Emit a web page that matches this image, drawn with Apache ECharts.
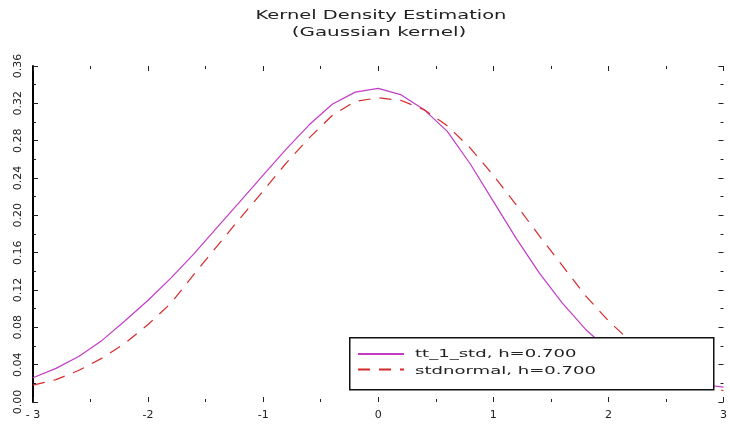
<!DOCTYPE html>
<html>
<head>
<meta charset="utf-8">
<script src="https://cdn.jsdelivr.net/npm/echarts@6/dist/echarts.min.js"></script>
<style>
  html, body { margin: 0; padding: 0; background: #fff; }
  #chart { width: 730px; height: 426px; }
</style>
</head>
<body>
<div id="chart"></div>
<script>
// Evaluation grid shared by both density estimates
const xGrid = [-3.0, -2.8, -2.6, -2.4, -2.2, -2.0, -1.8, -1.6, -1.4, -1.2, -1.0,
               -0.8, -0.6, -0.4, -0.2, 0.0, 0.2, 0.4, 0.6, 0.8, 1.0,
               1.2, 1.4, 1.6, 1.8, 2.0, 2.2, 2.4, 2.6, 2.8, 3.0];

// Estimated density of tt_1_std (h = 0.700)
const densityTt1 = [0.026, 0.036, 0.049, 0.066, 0.087, 0.109, 0.133, 0.159, 0.187, 0.215, 0.243,
                    0.271, 0.297, 0.319, 0.332, 0.336, 0.329, 0.313, 0.290, 0.255, 0.215,
                    0.175, 0.138, 0.106, 0.078, 0.056, 0.041, 0.031, 0.024, 0.019, 0.016];

// Estimated density of stdnormal (h = 0.700)
const densityStdNormal = [0.018, 0.024, 0.034, 0.047, 0.063, 0.083, 0.106, 0.137, 0.167, 0.197, 0.226,
                          0.256, 0.283, 0.307, 0.322, 0.326, 0.323, 0.313, 0.296, 0.272, 0.243,
                          0.211, 0.178, 0.146, 0.114, 0.087, 0.064, 0.045, 0.031, 0.020, 0.012];

const seriesNames = ['tt_1_std, h=0.700', 'stdnormal, h=0.700'];
const titleLines = ['Kernel Density Estimation', '(Gaussian kernel)'];

// Axis tick labels
const xTickLabels = { '-3': '- 3', '-2': '-2', '-1': '-1', '0': '0', '1': '1', '2': '2', '3': '3' };
const yTickLabels = ['0.00', '0.04', '0.08', '0.12', '0.16', '0.20', '0.24', '0.28', '0.32', '0.36'];

const pairs = (ys) => xGrid.map((x, i) => [x, ys[i]]);
const ink = '#222';
const font = 'DejaVu Sans';

const tickStyle = { color: ink, width: 1 };
const makeX = (pos, labels) => ({
  type: 'value', min: -3, max: 3, interval: 1, position: pos,
  axisLine: { show: false, onZero: false },
  axisTick: { show: true, inside: true, length: 5, lineStyle: tickStyle },
  minorTick: { show: true, splitNumber: 2, length: 3, lineStyle: tickStyle },
  splitLine: { show: false },
  axisLabel: labels ? {
    show: true, margin: 8, fontSize: 11, fontFamily: font, color: ink,
    formatter: (v) => xTickLabels[String(Math.round(v))]
  } : { show: false }
});
const makeY = (pos, labels) => ({
  type: 'value', min: 0, max: 0.36, interval: 0.04, position: pos,
  axisLine: { show: labels, onZero: false, lineStyle: { color: '#000', width: 2 } },
  axisTick: { show: true, inside: true, length: 5, lineStyle: tickStyle },
  minorTick: { show: true, splitNumber: 2, length: 3, lineStyle: tickStyle },
  splitLine: { show: false },
  axisLabel: labels ? {
    show: true, rotate: 90, margin: 9, fontSize: 11, fontFamily: font, color: ink,
    formatter: (v) => yTickLabels[Math.round(v / 0.04)]
  } : { show: false }
});

// Wide, stretched lettering for the heading and key labels
const stretchedText = (text, x, y, size, stretch, align) => ({
  type: 'text', x: x, y: y, z: 30, scaleX: stretch,
  style: {
    text: text, font: size + 'px "DejaVu Sans"', fill: ink,
    textAlign: align, textVerticalAlign: 'middle'
  }
});

const chart = echarts.init(document.getElementById('chart'), null, { renderer: 'canvas' });
chart.setOption({
  backgroundColor: '#fff',
  animation: false,
  grid: { left: 33, right: 0, top: 66, bottom: 24, containLabel: false },
  xAxis: [makeX('bottom', true), makeX('top', false)],
  yAxis: [makeY('left', true), makeY('right', false)],
  legend: {
    left: 357, top: 347, orient: 'vertical',
    itemWidth: 46, itemHeight: 14, itemGap: 3, padding: 0, z: 20,
    itemStyle: { opacity: 0 },
    formatter: () => '',
    textStyle: { fontSize: 11, fontFamily: font, color: ink },
    data: seriesNames
  },
  graphic: [
    stretchedText(titleLines[0], 381, 16, 12, 1.62, 'center'),
    stretchedText(titleLines[1], 379, 33, 12, 1.66, 'center'),
    stretchedText(seriesNames[0], 415, 354, 10.5, 1.72, 'left'),
    stretchedText(seriesNames[1], 415, 371, 10.5, 1.72, 'left'),
    {
      type: 'rect', z: 10, left: 349, top: 337,
      shape: { width: 364, height: 52 },
      style: { fill: '#fff', stroke: '#111', lineWidth: 1.5 }
    }
  ],
  series: [
    {
      name: seriesNames[0], type: 'line', data: pairs(densityTt1),
      symbol: 'none', smooth: false, z: 3,
      lineStyle: { color: '#c23cc8', width: 1.2, type: 'solid' },
      itemStyle: { color: '#c23cc8' }
    },
    {
      name: seriesNames[1], type: 'line', data: pairs(densityStdNormal),
      symbol: 'none', smooth: false, z: 3,
      lineStyle: { color: '#d42a2a', width: 1.2, type: [12, 9] },
      itemStyle: { color: '#d42a2a' }
    }
  ]
});
</script>
</body>
</html>
